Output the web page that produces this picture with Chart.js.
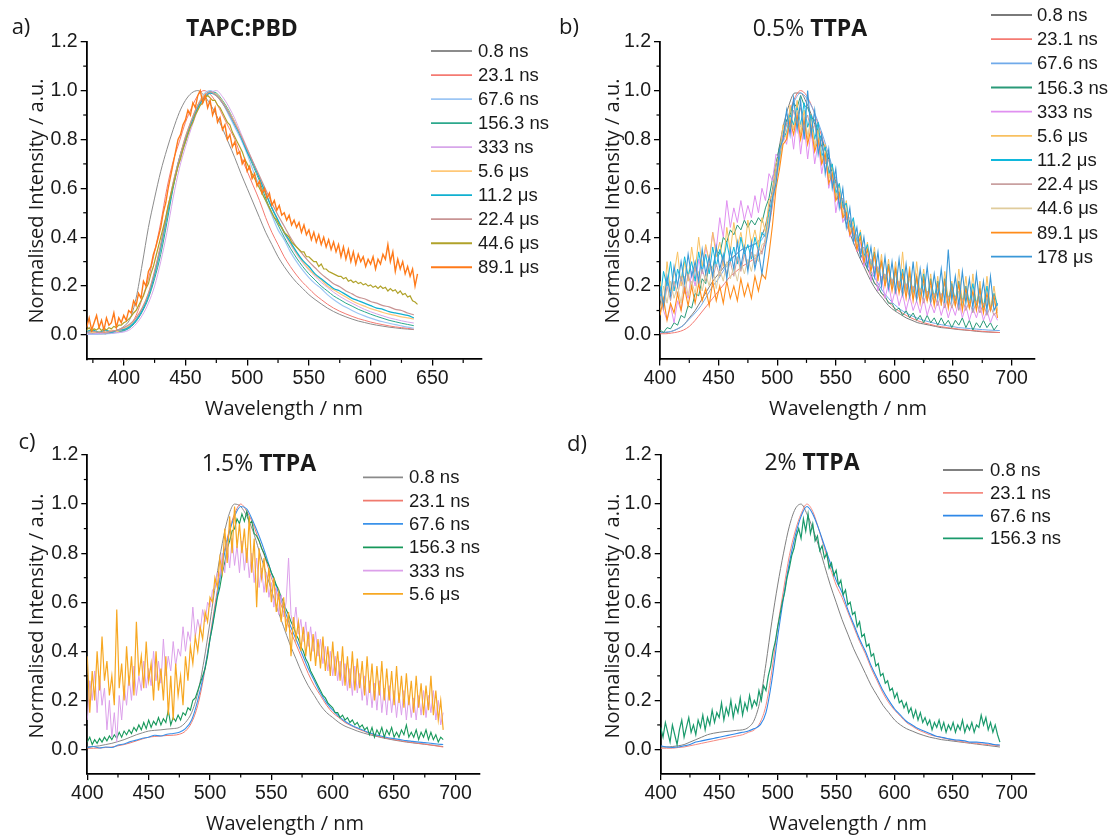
<!DOCTYPE html>
<html><head><meta charset="utf-8">
<script src="https://cdn.jsdelivr.net/npm/chart.js@4.4.1/dist/chart.umd.min.js"></script>
<style>
html,body{margin:0;padding:0;background:#fff;}
body{width:1111px;height:835px;position:relative;overflow:hidden;}
canvas{position:absolute;left:0;top:0;}
.t{position:absolute;transform:translate(-50%,-50%);white-space:nowrap;font-family:'Open Sans',sans-serif;color:#1a1a1a;line-height:1;}
.ttl{font-size:23px;}
.ax{font-size:20px;}
.yax{font-size:20px;transform:translate(-50%,-50%) rotate(-90deg);}
.pl{font-size:22px;}
</style></head><body>
<canvas id="ca" width="1111" height="835"></canvas>
<canvas id="cb" width="1111" height="835"></canvas>
<canvas id="cc" width="1111" height="835"></canvas>
<canvas id="cd" width="1111" height="835"></canvas>
<div class="t pl" style="left:21px;top:25px">a)</div>
<div class="t pl" style="left:569px;top:25px">b)</div>
<div class="t pl" style="left:27px;top:440px">c)</div>
<div class="t pl" style="left:577px;top:442px">d)</div>
<div class="t ttl" style="left:242px;top:27px"><b>TAPC:PBD</b></div>
<div class="t ttl" style="left:810px;top:27px">0.5% <b>TTPA</b></div>
<div class="t ttl" style="left:259px;top:462px">1.5% <b>TTPA</b></div>
<div class="t ttl" style="left:812px;top:461px">2% <b>TTPA</b></div>
<div class="t ax" style="left:284px;top:408px">Wavelength / nm</div>
<div class="t ax" style="left:848px;top:408px">Wavelength / nm</div>
<div class="t ax" style="left:285px;top:823px">Wavelength / nm</div>
<div class="t ax" style="left:848px;top:823px">Wavelength / nm</div>
<div class="t yax" style="left:36px;top:201px">Normalised Intensity / a.u.</div>
<div class="t yax" style="left:612px;top:201px">Normalised Intensity / a.u.</div>
<div class="t yax" style="left:36px;top:616px">Normalised Intensity / a.u.</div>
<div class="t yax" style="left:612px;top:616px">Normalised Intensity / a.u.</div>
<script>
// ---------- tick labels ----------
const xTicksA = [400,450,500,550,600,650];
const xMinorA = [375,425,475,525,575,625,675];
const xTicksB = [400,450,500,550,600,650,700];
const xMinorB = [425,475,525,575,625,675];
const yTicks = [0,0.2,0.4,0.6,0.8,1.0,1.2];
const yMinor = [0.1,0.3,0.5,0.7,0.9,1.1];

// ---------- legend labels ----------
const labelsA = ['0.8 ns','23.1 ns','67.6 ns','156.3 ns','333 ns','5.6 μs','11.2 μs','22.4 μs','44.6 μs','89.1 μs'];
const labelsB = ['0.8 ns','23.1 ns','67.6 ns','156.3 ns','333 ns','5.6 μs','11.2 μs','22.4 μs','44.6 μs','89.1 μs','178 μs'];
const labelsC = ['0.8 ns','23.1 ns','67.6 ns','156.3 ns','333 ns','5.6 μs'];
const labelsD = ['0.8 ns','23.1 ns','67.6 ns','156.3 ns'];

// ---------- panel a : TAPC:PBD (5 nm from 370, 2 nm from 370) ----------
const a_08 = [.005,.005,.006,.008,.012,.02,.035,.065,.15,.29,.44,.56,.67,.76,.84,.91,.96,.99,1.0,.98,.945,.9,.845,.785,.725,.66,.6,.54,.48,.42,.37,.32,.28,.245,.215,.19,.165,.145,.127,.11,.096,.084,.074,.065,.057,.051,.045,.04,.036,.032,.029,.026,.024,.022];
const a_231 = [.003,.003,.004,.005,.008,.012,.02,.04,.08,.15,.23,.34,.46,.6,.71,.79,.87,.93,.98,1.0,.985,.95,.9,.85,.8,.73,.67,.61,.55,.48,.42,.37,.32,.28,.245,.215,.19,.165,.145,.126,.11,.097,.086,.076,.067,.06,.053,.047,.042,.037,.033,.03,.027,.024];
const a_676 = [.002,.002,.003,.004,.006,.009,.015,.03,.06,.1,.16,.24,.35,.48,.62,.72,.8,.88,.94,.985,1.0,.985,.95,.9,.85,.8,.74,.67,.61,.55,.49,.43,.39,.34,.3,.265,.235,.21,.19,.165,.145,.128,.113,.1,.088,.078,.069,.061,.054,.048,.042,.037,.032,.028];
const a_1563 = [.01,.006,.01,.005,.01,.012,.018,.03,.055,.095,.15,.23,.33,.46,.6,.71,.79,.87,.93,.975,.995,.99,.96,.92,.87,.81,.75,.69,.63,.56,.5,.45,.4,.355,.315,.28,.25,.225,.2,.18,.16,.145,.13,.118,.105,.095,.085,.076,.068,.06,.054,.048,.043,.038];
const a_333 = [.005,.005,.006,.007,.008,.01,.012,.022,.045,.08,.13,.2,.3,.42,.56,.68,.77,.85,.92,.965,.99,1.0,.975,.935,.885,.825,.765,.705,.645,.58,.52,.465,.415,.37,.33,.295,.265,.24,.215,.195,.175,.158,.143,.13,.117,.105,.095,.086,.078,.07,.064,.058,.053,.049];
const a_56 = [.02,.01,.015,.01,.02,.015,.025,.04,.07,.11,.17,.26,.37,.5,.62,.72,.81,.88,.94,.98,.99,.985,.955,.915,.87,.815,.76,.7,.64,.58,.52,.465,.42,.375,.335,.3,.27,.245,.225,.2,.185,.17,.155,.14,.128,.118,.108,.1,.092,.085,.08,.074,.07,.065];
const a_112 = [.015,.02,.01,.02,.012,.02,.022,.035,.06,.1,.16,.25,.36,.49,.61,.72,.8,.87,.93,.97,.99,.98,.95,.91,.86,.81,.75,.7,.64,.58,.52,.47,.42,.38,.34,.305,.28,.25,.23,.21,.19,.18,.165,.15,.14,.13,.12,.11,.105,.095,.09,.085,.08,.07];
const a_224 = [.01,.015,.01,.012,.015,.02,.03,.045,.07,.11,.17,.26,.37,.5,.62,.72,.81,.88,.94,.975,.995,.98,.95,.91,.865,.815,.76,.705,.65,.595,.54,.49,.445,.4,.36,.33,.3,.275,.25,.23,.21,.197,.18,.168,.155,.148,.137,.13,.12,.115,.105,.1,.09,.082];
const a_446 = [.02,.03,.015,.025,.02,.03,.018,.028,.02,.03,.025,.035,.03,.04,.04,.05,.055,.065,.075,.09,.1,.12,.14,.16,.19,.21,.25,.28,.32,.36,.4,.44,.48,.53,.57,.61,.65,.69,.72,.76,.79,.82,.85,.87,.9,.92,.94,.95,.97,.98,.97,.96,.96,.94,.93,.91,.89,.87,.86,.83,.81,.79,.77,.75,.72,.7,.68,.66,.64,.62,.6,.58,.56,.54,.52,.5,.48,.47,.45,.44,.42,.41,.4,.38,.37,.36,.35,.34,.34,.32,.32,.31,.3,.3,.28,.29,.27,.27,.26,.255,.25,.245,.24,.24,.23,.235,.22,.225,.215,.22,.21,.215,.205,.21,.2,.205,.195,.2,.19,.2,.19,.195,.18,.19,.18,.185,.17,.18,.165,.17,.155,.16,.14,.135,.125];
const a_891 = [.03,.07,.02,.05,.08,.03,.06,.02,.07,.04,.05,.09,.03,.07,.05,.08,.06,.1,.09,.14,.12,.17,.15,.22,.2,.26,.28,.33,.36,.4,.44,.5,.54,.6,.65,.7,.75,.8,.82,.86,.88,.92,.9,.95,.93,.98,1.0,.95,.98,.93,.96,.9,.93,.87,.89,.84,.86,.8,.82,.77,.79,.74,.75,.7,.72,.67,.69,.64,.66,.61,.63,.58,.6,.56,.58,.53,.55,.51,.53,.49,.5,.47,.49,.45,.47,.44,.46,.42,.45,.41,.43,.39,.42,.38,.41,.37,.4,.36,.39,.35,.38,.34,.37,.32,.36,.31,.35,.3,.34,.29,.33,.3,.32,.28,.31,.29,.32,.27,.31,.29,.33,.31,.37,.3,.34,.26,.31,.27,.3,.25,.28,.24,.27,.2,.25];

// ---------- panel b : 0.5% TTPA (5 nm from 400, 3 nm from 400) ----------
const b_08 = [.01,.01,.015,.025,.04,.07,.1,.14,.18,.22,.25,.28,.31,.33,.35,.36,.37,.39,.45,.57,.72,.85,.94,.99,.99,.95,.89,.82,.74,.66,.58,.51,.44,.38,.32,.27,.22,.18,.15,.12,.1,.085,.07,.06,.05,.045,.04,.035,.03,.028,.025,.022,.02,.018,.015,.013,.012,.011,.01];
const b_231 = [.005,.005,.008,.012,.02,.035,.06,.09,.12,.15,.18,.21,.24,.26,.28,.295,.31,.33,.38,.5,.66,.8,.9,.97,1.0,.98,.93,.86,.78,.7,.62,.54,.47,.4,.34,.29,.24,.2,.165,.135,.11,.095,.08,.068,.058,.05,.044,.038,.034,.03,.027,.024,.021,.019,.017,.015,.013,.011,.01];
const b_676 = [.01,.012,.015,.025,.04,.065,.09,.12,.16,.2,.23,.27,.3,.33,.35,.36,.37,.38,.42,.52,.67,.8,.9,.96,.99,.97,.93,.87,.8,.72,.64,.56,.49,.42,.36,.31,.26,.22,.18,.15,.125,.105,.09,.078,.068,.06,.053,.047,.042,.038,.034,.03,.028,.026,.024,.022,.02,.019,.018];
const b_1563 = [.02,.01,.03,.025,.05,.04,.08,.07,.12,.11,.17,.16,.23,.21,.29,.27,.35,.33,.4,.38,.43,.41,.45,.43,.47,.44,.47,.45,.48,.46,.52,.56,.64,.7,.77,.82,.88,.9,.95,.93,.98,.94,.93,.89,.88,.83,.8,.76,.72,.66,.63,.57,.54,.49,.46,.41,.38,.33,.31,.27,.25,.21,.2,.17,.16,.13,.13,.1,.11,.08,.1,.07,.09,.06,.08,.05,.08,.05,.07,.04,.07,.04,.06,.03,.06,.04,.07,.03,.06,.02,.05,.03,.06,.03,.05,.02,.04];
const b_333 = [.18,.1,.06,.12,.05,.14,.1,.2,.15,.26,.2,.31,.25,.36,.3,.42,.35,.48,.4,.55,.44,.52,.46,.55,.47,.53,.48,.57,.5,.6,.55,.66,.63,.74,.72,.82,.78,.88,.76,.9,.74,.86,.72,.84,.7,.79,.66,.74,.6,.67,.5,.58,.46,.5,.4,.44,.34,.38,.28,.33,.22,.28,.18,.24,.15,.21,.13,.19,.12,.17,.1,.16,.1,.14,.09,.15,.08,.13,.09,.14,.08,.13,.07,.12,.08,.14,.07,.12,.06,.11,.07,.12,.06,.1,.05,.09,.06];
const b_56 = [.22,.12,.3,.18,.25,.34,.2,.3,.22,.36,.26,.4,.28,.37,.3,.42,.32,.38,.28,.44,.34,.46,.36,.42,.34,.47,.37,.43,.36,.48,.42,.55,.58,.7,.74,.86,.8,.94,.84,.96,.82,.92,.8,.9,.76,.84,.7,.78,.64,.7,.56,.62,.48,.55,.41,.47,.35,.43,.3,.38,.27,.36,.22,.33,.2,.31,.19,.3,.18,.34,.17,.28,.15,.3,.16,.27,.14,.25,.13,.24,.12,.26,.14,.22,.12,.27,.13,.24,.11,.25,.12,.22,.1,.24,.11,.2,.1];
const b_112 = [.14,.26,.2,.3,.18,.27,.22,.32,.24,.3,.22,.34,.26,.33,.25,.36,.28,.35,.3,.38,.3,.36,.29,.4,.33,.37,.31,.4,.34,.42,.4,.5,.56,.66,.72,.8,.83,.9,.86,.93,.86,.95,.85,.9,.8,.87,.73,.77,.66,.7,.58,.62,.52,.54,.44,.48,.38,.42,.32,.37,.28,.34,.25,.3,.22,.29,.2,.27,.19,.27,.18,.25,.17,.24,.16,.25,.15,.23,.15,.22,.14,.23,.13,.21,.14,.22,.12,.2,.13,.21,.12,.19,.11,.2,.1,.17,.12];
const b_224 = [.16,.1,.2,.14,.22,.16,.24,.17,.25,.19,.28,.2,.27,.22,.3,.23,.29,.24,.31,.25,.3,.24,.32,.26,.33,.27,.34,.29,.36,.33,.4,.47,.56,.66,.75,.8,.87,.85,.92,.87,.93,.86,.9,.83,.86,.78,.8,.7,.72,.62,.64,.54,.56,.47,.48,.4,.41,.34,.36,.29,.31,.25,.28,.22,.25,.19,.23,.17,.22,.16,.21,.15,.2,.14,.19,.13,.18,.13,.17,.12,.17,.11,.16,.11,.16,.1,.15,.1,.14,.09,.14,.09,.13,.08,.12,.08,.1];
const b_446 = [.1,.2,.13,.22,.15,.2,.13,.24,.16,.22,.17,.26,.18,.25,.2,.28,.19,.27,.22,.3,.23,.28,.22,.3,.25,.31,.26,.33,.3,.37,.38,.48,.54,.64,.7,.8,.82,.89,.84,.92,.85,.9,.82,.87,.78,.82,.72,.75,.64,.67,.56,.6,.5,.52,.43,.45,.37,.4,.31,.35,.27,.32,.24,.29,.21,.27,.19,.25,.18,.24,.17,.23,.16,.22,.15,.21,.14,.2,.14,.19,.13,.19,.13,.18,.12,.18,.12,.17,.11,.17,.11,.16,.1,.15,.1,.14,.09];
const b_891 = [.08,.15,.06,.13,.09,.17,.1,.19,.12,.2,.13,.21,.14,.19,.12,.22,.14,.2,.13,.22,.15,.2,.14,.23,.16,.21,.15,.24,.18,.25,.23,.33,.45,.6,.68,.78,.8,.88,.82,.9,.8,.88,.78,.85,.75,.8,.7,.74,.62,.66,.55,.58,.48,.5,.41,.44,.35,.4,.3,.35,.26,.33,.23,.3,.2,.28,.18,.27,.17,.25,.15,.26,.14,.24,.13,.23,.14,.22,.12,.21,.13,.22,.11,.2,.12,.21,.1,.19,.11,.18,.1,.19,.09,.17,.1,.16,.07];
const b_178 = [.2,.12,.24,.16,.28,.2,.3,.21,.33,.24,.3,.22,.35,.25,.32,.24,.36,.27,.33,.23,.35,.27,.38,.28,.36,.26,.38,.27,.34,.25,.36,.44,.56,.62,.76,.8,.92,.82,.97,.84,.96,.8,1.0,.82,.92,.74,.82,.66,.76,.6,.68,.52,.6,.44,.52,.38,.44,.32,.4,.28,.36,.24,.34,.2,.32,.19,.3,.18,.31,.17,.29,.16,.3,.15,.27,.16,.28,.14,.25,.15,.27,.13,.35,.14,.24,.12,.26,.13,.23,.11,.25,.12,.22,.1,.24,.1,.13];

// ---------- panel c : 1.5% TTPA (5 nm from 400, 2 nm from 400) ----------
const c_08 = [.01,.012,.015,.02,.025,.032,.04,.05,.06,.068,.075,.078,.08,.083,.085,.09,.11,.15,.23,.36,.52,.69,.84,.95,1.0,.99,.95,.89,.81,.73,.65,.57,.5,.43,.37,.31,.26,.22,.18,.15,.13,.11,.095,.085,.075,.067,.06,.054,.048,.043,.038,.034,.03,.027,.024,.021,.018,.015,.012];
const c_231 = [.005,.005,.006,.008,.01,.015,.02,.027,.035,.043,.05,.053,.055,.057,.058,.062,.075,.11,.18,.3,.46,.62,.77,.88,.96,1.0,.97,.92,.85,.78,.7,.63,.56,.49,.43,.37,.31,.26,.22,.18,.15,.13,.11,.097,.085,.075,.065,.057,.05,.045,.04,.036,.032,.028,.025,.022,.018,.014,.01];
const c_676 = [.008,.012,.006,.01,.008,.018,.022,.032,.038,.046,.05,.058,.055,.062,.065,.07,.085,.12,.2,.31,.45,.6,.75,.87,.95,.99,.98,.93,.87,.8,.72,.65,.58,.51,.45,.39,.33,.28,.23,.19,.16,.135,.115,.1,.088,.078,.068,.06,.054,.048,.044,.04,.036,.033,.03,.028,.025,.022,.02];
const c_1563 = [.03,.05,.02,.04,.025,.045,.03,.05,.035,.055,.04,.06,.045,.07,.05,.075,.06,.08,.065,.09,.075,.1,.08,.11,.085,.12,.09,.115,.1,.13,.1,.125,.11,.16,.1,.13,.115,.14,.12,.15,.14,.17,.16,.2,.21,.24,.27,.3,.33,.38,.45,.5,.56,.62,.66,.72,.76,.82,.85,.89,.9,.94,.92,.96,.93,.97,.92,.93,.88,.87,.85,.82,.8,.77,.75,.72,.7,.67,.65,.62,.6,.57,.55,.52,.5,.47,.45,.42,.4,.37,.35,.32,.3,.28,.26,.24,.22,.21,.19,.18,.17,.15,.15,.13,.14,.12,.13,.11,.12,.1,.11,.09,.1,.08,.09,.06,.09,.05,.08,.06,.09,.05,.08,.06,.09,.05,.07,.05,.08,.06,.1,.05,.07,.05,.08,.04,.07,.05,.08,.04,.07,.04,.06,.03,.05,.04];
const c_333 = [.12,.28,.2,.32,.15,.3,.18,.25,.08,.2,.05,.15,.03,.22,.12,.26,.18,.3,.2,.34,.22,.3,.24,.36,.25,.33,.26,.4,.28,.36,.27,.45,.3,.38,.32,.44,.34,.41,.38,.5,.4,.48,.44,.58,.46,.53,.48,.57,.52,.6,.58,.65,.66,.72,.7,.8,.72,.84,.74,.86,.75,.83,.72,.85,.73,.82,.7,.8,.68,.78,.66,.74,.64,.72,.62,.68,.58,.66,.55,.63,.54,.6,.78,.55,.5,.58,.47,.53,.44,.52,.42,.5,.4,.48,.38,.45,.35,.42,.32,.4,.3,.38,.28,.36,.26,.35,.24,.33,.22,.34,.23,.31,.2,.3,.18,.28,.17,.27,.16,.28,.15,.25,.14,.26,.15,.24,.13,.23,.14,.24,.12,.22,.13,.21,.12,.22,.14,.24,.13,.22,.15,.24,.12,.2,.1,.15];
const c_56 = [.38,.15,.32,.2,.4,.24,.46,.28,.36,.22,.3,.18,.57,.25,.35,.2,.42,.26,.38,.22,.52,.3,.38,.25,.44,.28,.35,.2,.4,.24,.33,.2,.38,.14,.3,.12,.35,.22,.3,.18,.38,.28,.42,.35,.46,.4,.5,.45,.56,.52,.62,.6,.7,.66,.78,.72,.9,.76,.95,.8,.99,.82,.92,.8,.9,.76,.95,.72,.86,.58,.82,.7,.78,.64,.74,.6,.7,.56,.64,.52,.62,.48,.56,.38,.54,.45,.52,.4,.5,.38,.48,.36,.47,.34,.45,.33,.46,.32,.42,.3,.44,.3,.4,.28,.42,.26,.38,.25,.4,.24,.37,.25,.36,.22,.38,.23,.35,.2,.34,.22,.36,.2,.33,.2,.32,.18,.34,.19,.3,.17,.31,.18,.28,.15,.3,.17,.27,.14,.26,.16,.3,.14,.24,.12,.2,.08];

// ---------- panel d : 2% TTPA (5 nm from 400, 2 nm from 400) ----------
const d_08 = [.01,.01,.012,.015,.02,.03,.04,.05,.06,.066,.07,.073,.075,.078,.08,.09,.12,.2,.35,.52,.67,.8,.91,.98,1.0,.96,.9,.83,.75,.67,.6,.53,.47,.41,.36,.31,.26,.22,.18,.15,.12,.1,.085,.075,.065,.057,.05,.045,.04,.037,.034,.031,.028,.025,.022,.019,.016,.013,.01];
const d_231 = [.005,.005,.005,.008,.01,.015,.02,.025,.03,.035,.04,.045,.05,.055,.06,.07,.08,.11,.18,.32,.5,.65,.79,.89,.96,1.0,.97,.9,.82,.74,.67,.62,.56,.5,.44,.39,.33,.28,.23,.19,.16,.135,.11,.095,.08,.07,.06,.054,.048,.043,.038,.034,.03,.027,.025,.022,.02,.017,.015];
const d_676 = [.015,.01,.008,.01,.015,.02,.03,.035,.04,.045,.05,.055,.06,.065,.07,.075,.085,.1,.15,.28,.46,.62,.76,.87,.95,.99,.96,.9,.83,.76,.69,.64,.57,.51,.45,.4,.34,.29,.24,.2,.165,.14,.115,.1,.085,.075,.065,.055,.05,.045,.04,.038,.035,.03,.03,.028,.025,.02,.018];
const d_1563 = [.09,.05,.11,.07,.03,.1,.06,.02,.08,.12,.05,.09,.13,.07,.1,.06,.12,.09,.14,.08,.13,.1,.16,.11,.15,.13,.19,.12,.17,.14,.2,.13,.18,.15,.21,.14,.19,.16,.22,.17,.2,.18,.24,.2,.26,.24,.3,.34,.4,.44,.5,.55,.6,.64,.7,.74,.79,.82,.87,.9,.86,.94,.89,.96,.88,.92,.85,.87,.81,.83,.78,.8,.74,.76,.71,.73,.67,.69,.63,.65,.59,.6,.55,.56,.5,.52,.46,.47,.42,.43,.38,.39,.34,.35,.3,.31,.27,.28,.24,.25,.21,.23,.19,.2,.17,.19,.15,.17,.13,.16,.12,.15,.11,.13,.1,.12,.08,.11,.09,.12,.08,.11,.07,.1,.08,.11,.07,.1,.08,.12,.07,.1,.08,.11,.07,.1,.09,.14,.1,.13,.08,.11,.07,.1,.06,.03];

// ---------- colours ----------
const colA = ['#8c8c8c','#f47a72','#9cc6f4','#2ca88c','#d7a6ea','#ffc878','#10b0d0','#c89494','#b0a22a','#ff7a1a'];
const colB = ['#7a7a7a','#f47a72','#70aaea','#2a9a78','#e090f0','#f8c060','#10b8dc','#c9a0a0','#e0cc9c','#ff8c1a','#3a98d8'];
const colC = ['#8a8a8a','#f07a6e','#3a92ea','#17985a','#dca0ea','#f7a823'];
const colD = ['#808080','#f58a80','#2f88e8','#1a9a6c'];

function pts(start, step, vals){ return vals.map((v,i)=>({x: start + i*step, y: v})); }

const FT = "'Liberation Sans', Arial, sans-serif";

const minorTicks = {
  id:'minorTicks',
  afterDraw(chart, args, o){
    const ctx = chart.ctx, xs = chart.scales.x, ys = chart.scales.y;
    ctx.save(); ctx.strokeStyle = '#000'; ctx.lineWidth = 1.2;
    o.x.forEach(v=>{ const p = xs.getPixelForValue(v); ctx.beginPath(); ctx.moveTo(p, xs.top); ctx.lineTo(p, xs.top + 3.5); ctx.stroke(); });
    o.y.forEach(v=>{ const p = ys.getPixelForValue(v); ctx.beginPath(); ctx.moveTo(ys.right, p); ctx.lineTo(ys.right - 3.5, p); ctx.stroke(); });
    ctx.restore();
  }
};
const legendAt = {
  id:'legendAt',
  afterDraw(chart, args, o){
    const ctx = chart.ctx;
    ctx.save();
    ctx.font = '18.5px ' + FT; ctx.textBaseline = 'middle'; ctx.fillStyle = '#1a1a1a';
    chart.data.datasets.forEach((ds,i)=>{
      const y = o.y0 + i*o.dy;
      ctx.strokeStyle = ds.borderColor; ctx.lineWidth = 1.8;
      ctx.beginPath(); ctx.moveTo(o.x1, y); ctx.lineTo(o.x2, y); ctx.stroke();
      ctx.fillText(ds.label, o.tx, y + 1);
    });
    ctx.restore();
  }
};

function scales(xmin, xmax, xt){
  const common = {
    grid:{drawOnChartArea:false, drawTicks:true, tickLength:6, color:'#000', lineWidth:1.3},
    border:{display:true, color:'#000', width:1.8}
  };
  return {
    x:{type:'linear', min:xmin, max:xmax, ...common,
       afterBuildTicks:s=>{ s.ticks = xt.map(v=>({value:v})); },
       afterFit:s=>{ s.height = 40; },
       ticks:{font:{family:FT, size:19.5}, color:'#1a1a1a', padding:2, maxRotation:0, autoSkip:false, callback:v=>String(v)}},
    y:{type:'linear', min:-0.1, max:1.2, ...common,
       afterBuildTicks:s=>{ s.ticks = yTicks.map(v=>({value:v})); },
       afterFit:s=>{ s.width = 60; },
       ticks:{font:{family:FT, size:19.5}, color:'#1a1a1a', padding:3, autoSkip:false, callback:v=>Number(v).toFixed(1)}}
  };
}

function makeChart(id, sets, labels, cols, widths, xmin, xmax, xt, xm, pad, leg){
  const datasets = sets.map((s,i)=>({
    label: labels[i], data: s, borderColor: cols[i], borderWidth: widths[i],
    pointRadius: 0, fill: false, order: -i,
    tension: s.length < 70 ? 0.3 : 0, cubicInterpolationMode: s.length < 70 ? 'monotone' : 'default'
  }));
  new Chart(document.getElementById(id), {
    type:'line',
    data:{datasets},
    options:{
      responsive:false, animation:false, events:[],
      layout:{padding:pad},
      plugins:{legend:{display:false}, tooltip:{enabled:false}, minorTicks:{x:xm, y:yMinor}, legendAt:leg},
      scales: scales(xmin, xmax, xt)
    },
    plugins:[minorTicks, legendAt]
  });
}

makeChart('ca',
  [pts(370,5,a_08), pts(370,5,a_231), pts(370,5,a_676), pts(370,5,a_1563), pts(370,5,a_333), pts(370,5,a_56), pts(370,5,a_112), pts(370,5,a_224), pts(370,2,a_446), pts(370,2,a_891)],
  labelsA, colA, [1,1,1.2,1,1,1.2,1.3,1.2,1.2,1.4],
  370, 690, xTicksA, xMinorA,
  {left:26.7, top:41.7, right:629.3, bottom:435.6},
  {x1:431, x2:472, tx:478, y0:51, dy:24.03});

makeChart('cb',
  [pts(400,5,b_08), pts(400,5,b_231), pts(400,5,b_676), pts(400,3,b_1563), pts(400,3,b_333), pts(400,3,b_56), pts(400,3,b_112), pts(400,3,b_224), pts(400,3,b_446), pts(400,3,b_891), pts(400,3,b_178)],
  labelsB, colB, [1,1,1,1,1,1,1,1,1,1.1,1.1],
  400, 720, xTicksB, xMinorB,
  {left:600, top:41.7, right:76, bottom:435.6},
  {x1:991, x2:1032, tx:1037, y0:15, dy:24.17});

makeChart('cc',
  [pts(400,5,c_08), pts(400,5,c_231), pts(400,5,c_676), pts(400,2,c_1563), pts(400,2,c_333), pts(400,2,c_56)],
  labelsC, colC, [1,1,1.1,1.1,1,1.2],
  400, 720, xTicksB, xMinorB,
  {left:27.3, top:455, right:631, bottom:21},
  {x1:363, x2:403, tx:409, y0:477.3, dy:23.33});

makeChart('cd',
  [pts(400,5,d_08), pts(400,5,d_231), pts(400,5,d_676), pts(400,2,d_1563)],
  labelsD, colD, [1,1,1.1,1.2],
  400, 720, xTicksB, xMinorB,
  {left:600.7, top:455, right:76, bottom:21},
  {x1:943, x2:983, tx:990, y0:470, dy:22.8});
</script>
</body></html>
